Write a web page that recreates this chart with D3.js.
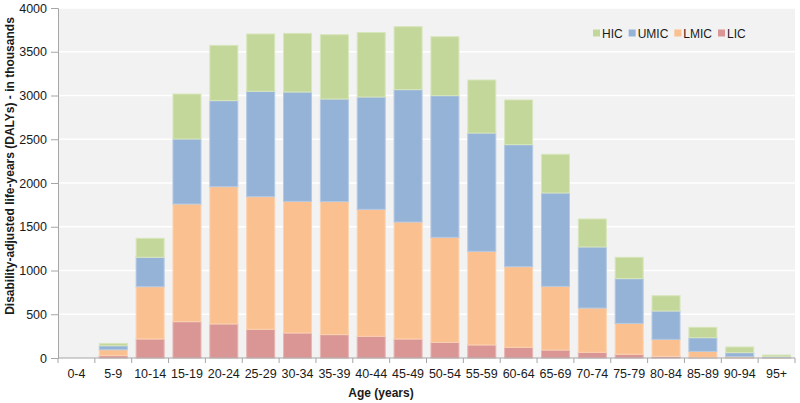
<!DOCTYPE html>
<html><head><meta charset="utf-8">
<script src="https://cdn.jsdelivr.net/npm/d3@7"></script>
<style>body{margin:0;background:#fff}svg{display:block;font-family:"Liberation Sans",Arial,sans-serif}</style>
</head><body><svg id="c" width="800" height="403"></svg>
<script>
const ages = ["0-4","5-9","10-14","15-19","20-24","25-29","30-34","35-39","40-44","45-49","50-54","55-59","60-64","65-69","70-74","75-79","80-84","85-89","90-94","95+"];
const LIC  = [0, 27, 217, 415, 389, 328, 286, 267, 248, 217, 179, 149, 122, 91, 65, 42, 19, 5, 3, 1];
const LMIC = [0, 68, 598, 1345, 1569, 1516, 1504, 1520, 1451, 1337, 1200, 1070, 922, 728, 506, 354, 194, 71, 12, 4];
const UMIC = [0, 45, 336, 743, 983, 1204, 1250, 1173, 1284, 1513, 1619, 1352, 1394, 1067, 698, 511, 324, 156, 46, 10];
const HIC  = [0, 27, 217, 514, 632, 655, 670, 735, 737, 720, 674, 606, 511, 442, 320, 244, 175, 119, 65, 19];
const yTicks = [0, 500, 1000, 1500, 2000, 2500, 3000, 3500, 4000];
const seriesNames = ["LIC","LMIC","UMIC","HIC"];
const colors = {HIC:"#c4d79b", UMIC:"#95b3d7", LMIC:"#fac090", LIC:"#da9694"};
const strokes = {HIC:"#d8e6bc", UMIC:"#b3c9e4", LMIC:"#fcd3b1", LIC:"#e6b5b4"};

const svg = d3.select("#c");
const m = {l:58, r:5, t:8, b:45};
const W = 800, H = 403;
const x = d3.scaleBand().domain(ages).range([m.l, W - m.r]).paddingInner(0.24).paddingOuter(0.12);
const y = d3.scaleLinear().domain([0, 4000]).range([H - m.b, m.t]);

svg.append("rect").attr("x", m.l).attr("y", m.t).attr("width", W - m.r - m.l).attr("height", H - m.b - m.t).attr("fill", "#f2f2f2");

svg.append("g").selectAll("line").data(yTicks.slice(1)).join("line")
  .attr("x1", m.l).attr("x2", W - m.r).attr("y1", d => y(d)).attr("y2", d => y(d))
  .attr("stroke", "#fff").attr("stroke-width", 1.5);

const table = ages.map((a, i) => ({age: a, LIC: LIC[i], LMIC: LMIC[i], UMIC: UMIC[i], HIC: HIC[i]}));
const stack = d3.stack().keys(seriesNames)(table);

svg.append("g").selectAll("g").data(stack).join("g")
  .attr("fill", d => colors[d.key]).attr("stroke", d => strokes[d.key]).attr("stroke-width", 1)
  .selectAll("rect").data(d => d.filter(p => p[1] - p[0] > 0)).join("rect")
  .attr("x", d => x(d.data.age)).attr("width", x.bandwidth())
  .attr("y", d => y(d[1])).attr("height", d => Math.max(0, y(d[0]) - y(d[1])));

// axes
const yAxis = svg.append("g").attr("transform", `translate(${m.l},0)`)
  .call(d3.axisLeft(y).tickValues(yTicks).tickFormat(d3.format("d")).tickSize(7).tickPadding(4));
yAxis.attr("font-size", 12.5).attr("font-family", "Liberation Sans, Arial, sans-serif");
yAxis.select(".domain").attr("stroke", "#a6a6a6");
yAxis.selectAll(".tick line").attr("stroke", "#a6a6a6");
yAxis.selectAll("text").attr("fill", "#1a1a1a");

const bounds = d3.range(ages.length + 1).map(i => m.l + i * (W - m.r - m.l) / ages.length);
const xg = svg.append("g");
xg.append("line").attr("x1", m.l).attr("x2", W - m.r).attr("y1", y(0)).attr("y2", y(0)).attr("stroke", "#a6a6a6");
xg.selectAll("line.t").data(bounds).join("line").attr("class", "t")
  .attr("x1", d => d).attr("x2", d => d).attr("y1", y(0)).attr("y2", y(0) + 5).attr("stroke", "#a6a6a6");
xg.selectAll("text").data(ages).join("text")
  .attr("x", d => x(d) + x.bandwidth() / 2).attr("y", y(0) + 20)
  .attr("text-anchor", "middle").attr("font-size", 12.5).attr("fill", "#1a1a1a").text(d => d);

svg.append("text").attr("x", 381).attr("y", 397).attr("text-anchor", "middle")
  .attr("font-size", 12).attr("font-weight", "bold").attr("fill", "#1a1a1a").text("Age (years)");
svg.append("text").attr("transform", "translate(14,166) rotate(-90)").attr("text-anchor", "middle")
  .attr("font-size", 12).attr("font-weight", "bold").attr("fill", "#1a1a1a").text("Disability-adjusted life-years (DALYs) - in thousands");

// legend
const legendItems = ["HIC","UMIC","LMIC","LIC"];
const lg = svg.append("g").attr("transform", "translate(593,33)");
let lx = 0;
legendItems.forEach(k => {
  const g = lg.append("g").attr("transform", `translate(${lx},0)`);
  g.append("rect").attr("x", 0).attr("y", -3.5).attr("width", 7).attr("height", 7).attr("fill", colors[k]);
  const t = g.append("text").attr("x", 9).attr("y", 4.5).attr("font-size", 12).attr("fill", "#1a1a1a").text(k);
  lx += 9 + t.node().getComputedTextLength() + 6;
});
</script></body></html>
